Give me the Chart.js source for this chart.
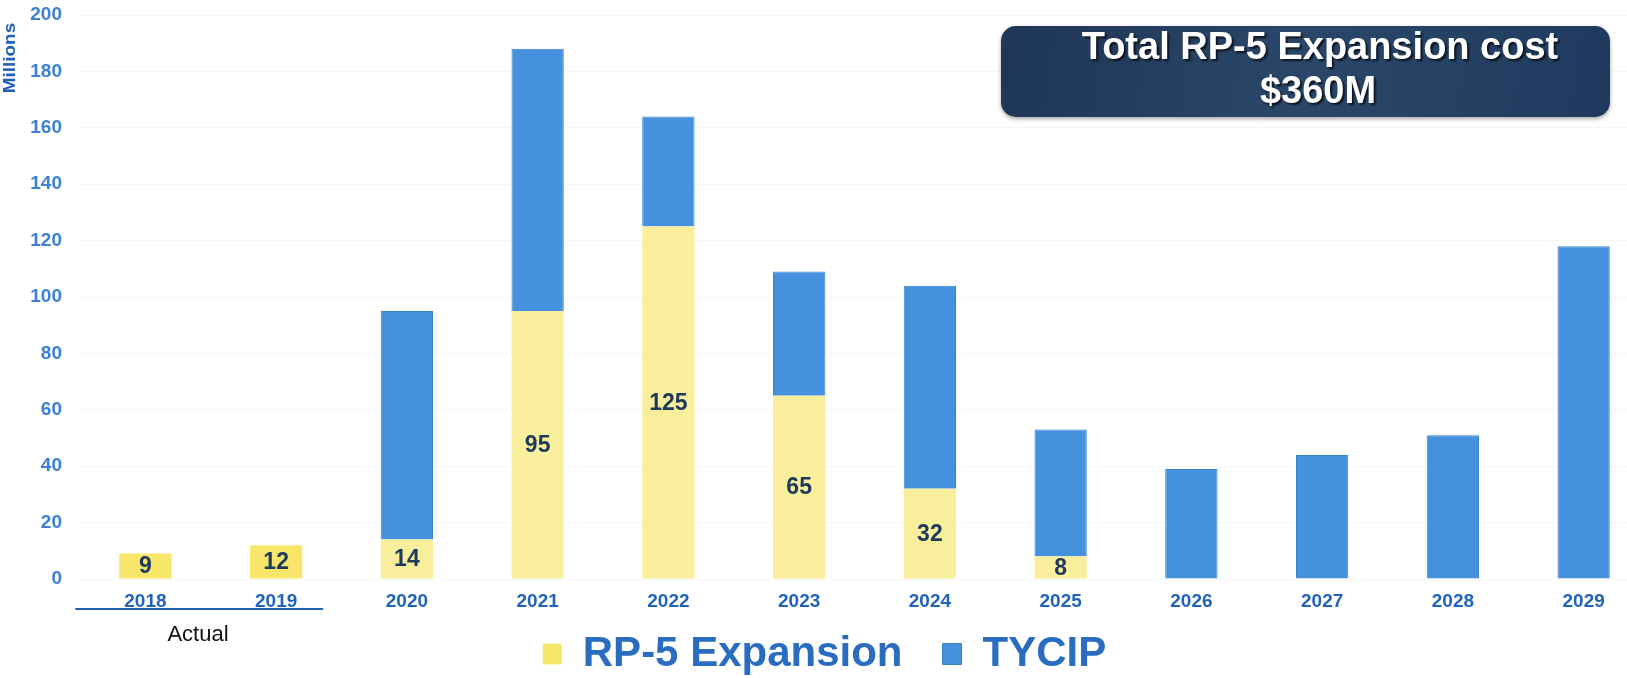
<!DOCTYPE html>
<html>
<head>
<meta charset="utf-8">
<script src="https://cdn.jsdelivr.net/npm/chart.js@4"></script>
<style>
  html, body { margin: 0; padding: 0; background: #fff; overflow: hidden; }
  #wrap { width: 1652px; height: 678px; }
</style>
</head>
<body>
<div id="wrap"><canvas id="costChart"></canvas></div>
<script>
// RP-5 expansion vs TYCIP spend, millions
const years = ['2018', '2019', '2020', '2021', '2022', '2023', '2024', '2025', '2026', '2027', '2028', '2029'];
const rp5 = [9, 12, 14, 95, 125, 65, 32, 8, null, null, null, null];
const tycip = [null, null, 81, 93, 39, 44, 72, 45, 39, 44, 51, 118];
const yTicks = [0, 20, 40, 60, 80, 100, 120, 140, 160, 180, 200];

const FONT = '"Liberation Sans", Arial, sans-serif';
const yellow = years.map((y, i) => i < 2 ? '#f8e66a' : '#f9ee9c');

const LEGEND_PAD = 11;   // used for fitting height
const LEGEND_GAP = 40;   // gap between legend items when drawn

const extras = {
  id: 'extras',
  afterLayout(chart) {
    // widen item gap without making the legend box taller
    const lg = chart.legend;
    lg.options.labels.padding = LEGEND_GAP;
    const shift = LEGEND_GAP - LEGEND_PAD;
    lg.left -= shift; lg.right -= shift;
    lg.top = 654 - LEGEND_GAP - 21;
    lg.bottom = chart.height;
  },
  afterDatasetsDraw(chart) {
    const ctx = chart.ctx;
    const meta = chart.getDatasetMeta(0);
    ctx.save();
    ctx.font = 'bold 23px ' + FONT;
    ctx.fillStyle = '#1d3a5c';
    ctx.textAlign = 'center';
    ctx.textBaseline = 'middle';
    meta.data.forEach((bar, i) => {
      if (rp5[i] == null) return;
      ctx.fillText(String(rp5[i]), bar.x, (bar.y + bar.base) / 2 + 1);
    });
    ctx.restore();
  },
  afterDraw(chart) {
    const ctx = chart.ctx;
    const x = chart.scales.x;
    ctx.save();
    // axis unit, narrow and tall like the original
    ctx.save();
    ctx.translate(11, 58);
    ctx.rotate(-Math.PI / 2);
    ctx.scale(1.18, 1);
    ctx.fillStyle = '#1f5fb5';
    ctx.font = 'bold 16px ' + FONT;
    ctx.textAlign = 'center';
    ctx.textBaseline = 'middle';
    ctx.fillText('Millions', 0, 0);
    ctx.restore();

    // "Actual" bracket under 2018-2019
    ctx.strokeStyle = '#1f5fae';
    ctx.lineWidth = 2;
    ctx.beginPath();
    ctx.moveTo(x.getPixelForValue(0) - 70, 609);
    ctx.lineTo(x.getPixelForValue(1) + 47, 609);
    ctx.stroke();
    ctx.fillStyle = '#111';
    ctx.font = '22px ' + FONT;
    ctx.textAlign = 'center';
    ctx.textBaseline = 'middle';
    ctx.fillText('Actual', 198, 635);

    // total cost callout
    const bx = 1001, by = 26, bw = 609, bh = 91;
    const g = ctx.createLinearGradient(bx, by, bx + bw, by + bh);
    g.addColorStop(0, '#1f3656');
    g.addColorStop(0.5, '#2a4769');
    g.addColorStop(1, '#1f3a5e');
    ctx.shadowColor = 'rgba(0,0,0,0.35)';
    ctx.shadowBlur = 4;
    ctx.shadowOffsetY = 2;
    ctx.fillStyle = g;
    ctx.beginPath();
    ctx.roundRect(bx, by, bw, bh, 15);
    ctx.fill();
    ctx.shadowColor = 'rgba(0,0,0,0.7)';
    ctx.shadowBlur = 2;
    ctx.shadowOffsetX = 2;
    ctx.shadowOffsetY = 2;
    ctx.fillStyle = '#ffffff';
    ctx.font = 'bold 38px ' + FONT;
    ctx.fillText('Total RP-5 Expansion cost', 1320, 49);
    ctx.fillText('$360M', 1318, 93);
    ctx.restore();
  }
};

new Chart(document.getElementById('costChart'), {
  type: 'bar',
  data: {
    labels: years,
    datasets: [
      { label: 'RP-5 Expansion', data: rp5, backgroundColor: yellow, borderWidth: 0 },
      { label: 'TYCIP', data: tycip, backgroundColor: '#4591dd', borderColor: '#3a82cf', borderWidth: 1 }
    ]
  },
  options: {
    responsive: true,
    maintainAspectRatio: false,
    animation: false,
    datasets: { bar: { barPercentage: 0.4, categoryPercentage: 1.0 } },
    layout: { padding: { top: 15, right: 3, left: 0, bottom: 0 } },
    scales: {
      x: {
        stacked: true,
        grid: { display: false },
        border: { display: false },
        ticks: { color: '#1f63bd', font: { family: FONT, size: 19, weight: 'bold' }, padding: 3 },
        afterFit(s) { s.height = 36; s.paddingLeft = 0; s.paddingRight = 0; }
      },
      y: {
        stacked: true,
        min: 0,
        max: 200,
        afterBuildTicks(s) { s.ticks = yTicks.map(v => ({ value: v })); },
        grid: { color: 'rgba(0,0,0,0.035)', drawTicks: false },
        border: { display: false },
        ticks: { color: '#3b7fd6', font: { family: FONT, size: 19, weight: 'bold' }, padding: 18 },
        afterFit(s) { s.width = 80; s.paddingTop = 0; s.paddingBottom = 0; }
      }
    },
    plugins: {
      legend: {
        position: 'bottom',
        labels: {
          boxWidth: 19,
          boxHeight: 21,
          padding: LEGEND_PAD,
          color: '#2a6cc0',
          font: { family: FONT, size: 42, weight: 'bold' }
        }
      },
      tooltip: { enabled: false }
    }
  },
  plugins: [extras]
});
</script>
</body>
</html>
